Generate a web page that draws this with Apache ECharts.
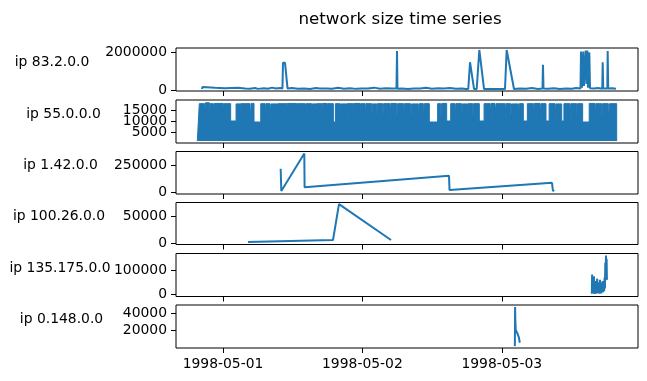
<!DOCTYPE html>
<html><head><meta charset="utf-8">
<script src="https://cdn.jsdelivr.net/npm/echarts@6/dist/echarts.min.js"></script>
<style>html,body{margin:0;padding:0;background:#fff}#c{width:647px;height:381px}</style>
</head><body><div id="c"></div>
<script>
const chartTitle = 'network size time series';
const panelNames = ['ip 83.2.0.0', 'ip 55.0.0.0', 'ip 1.42.0.0', 'ip 100.26.0.0', 'ip 135.175.0.0', 'ip 0.148.0.0'];
// x values are hours since 1998-05-01 00:00
const xTickHours = [0, 24, 48];
const xTickLabels = ['1998-05-01', '1998-05-02', '1998-05-03'];
const yTickValues = [[0, 2000000], [5000, 10000, 15000], [0, 250000], [0, 50000], [0, 100000], [20000, 40000]];

// ip 83.2.0.0
const p1Hours = [-3.62,-3.53,-3.36,-1.38,0.34,2.58,2.76,3.79,4.65,5.51,6.03,7.06,7.75,8.44,9.13,9.81,10.24,10.33,10.50,10.68,10.85,11.02,11.11,11.88,12.91,13.95,14.98,16.01,16.70,17.73,18.77,19.80,20.83,21.87,22.90,23.93,24.97,26.00,27.03,28.06,29.10,29.87,29.96,30.04,30.82,31.85,32.88,33.92,34.95,35.98,37.02,38.05,39.08,40.12,41.15,41.84,42.23,42.53,43.22,43.68,44.13,44.94,48.55,48.84,50.10,51.13,52.17,53.20,54.23,55.01,55.09,55.18,55.96,56.99,58.02,59.05,60.09,60.78,61.55,61.64,61.81,62.03,62.15,62.45,62.58,62.72,62.84,63.07,63.19,63.88,64.56,65.30,65.37,65.46,66.17,66.23,66.32,66.97,67.66];
const p1Values = [70000,180000,120000,130000,110000,140000,70000,90000,80000,120000,75000,110000,80000,140000,90000,120000,90000,1450000,1500000,1450000,1480000,1400000,100000,120000,85000,95000,70000,120000,90000,100000,80000,130000,85000,110000,75000,100000,90000,140000,80000,110000,90000,100000,2070000,80000,90000,70000,100000,90000,130000,80000,110000,90000,120000,80000,100000,70000,70000,1480000,70000,70000,2130000,70000,70000,2130000,70000,90000,80000,120000,70000,90000,1350000,90000,80000,110000,70000,100000,80000,120000,90000,2050000,130000,2050000,230000,2100000,330000,2100000,130000,2000000,110000,90000,120000,80000,1480000,90000,100000,2070000,90000,110000,80000];

// ip 55.0.0.0 (upper envelope of the dense oscillation, drawn as a filled step line)
const p2Hours = [-4.42,-4.08,-3.16,-3.02,-2.35,-2.21,-1.66,-1.52,0.06,0.20,1.32,2.25,2.93,3.03,4.65,4.85,5.34,6.50,7.23,7.38,8.09,8.25,9.35,9.45,10.96,11.06,12.57,12.64,14.12,14.26,15.27,15.36,16.01,16.11,16.99,17.09,17.96,18.08,19.00,19.35,20.14,20.26,21.18,21.30,22.44,22.56,23.59,23.69,24.45,24.60,25.60,25.72,26.46,26.58,27.49,27.64,28.75,28.90,29.90,30.08,31.05,31.20,32.31,32.48,33.63,33.78,34.49,34.64,35.52,36.95,37.48,37.66,38.51,39.20,39.94,40.09,41.09,41.24,42.07,42.19,42.99,43.14,44.13,44.95,45.97,46.12,46.83,47.03,48.55,48.70,49.53,49.68,50.85,51.00,51.71,52.40,53.43,53.58,54.58,54.73,55.61,56.15,57.16,57.31,58.31,58.70,59.74,59.89,60.89,61.04,61.92,63.05,64.05,64.20,65.20,65.35,66.34,66.55,67.78];
const p2Values = [1300,17800,14100,18200,9700,17800,14100,17900,14100,17800,10150,17700,14100,17800,9700,17900,9700,17800,13500,17800,9700,17700,14900,17800,14100,17900,14900,17800,14100,17800,14900,17700,14100,17800,10150,17900,14100,17800,9700,17800,14100,17700,10150,17800,10150,17900,14100,17800,10150,17800,10150,17700,10150,17800,10150,17800,10150,17900,10150,17800,10150,17800,10150,17700,10150,17800,10150,17800,9700,17800,10150,17900,10150,17800,10150,17800,10150,17700,10150,17800,10150,17800,10150,17800,10150,17900,14100,17800,10150,17800,10150,17700,10150,17800,10150,17800,10150,17900,10150,17800,10150,17800,10150,17700,10150,17800,10150,17800,10150,17800,9700,17900,10150,17800,10150,17800,10150,17800,1300];

// ip 1.42.0.0
const p3Hours = [9.93,10.04,14.00,14.05,38.91,39.00,56.64,56.82,56.90,56.99];
const p3Values = [221000,9600,366000,45000,154000,19000,87000,8000,15000,20000];

// ip 100.26.0.0
const p4Hours = [4.30,18.94,19.97,28.93];
const p4Values = [2000,5500,72000,5500];

// ip 135.175.0.0
const p5Hours = [63.50,63.55,63.62,63.70,63.78,63.86,63.94,64.02,64.10,64.18,64.26,64.34,64.42,64.50,64.58,64.66,64.74,64.82,64.90,64.98,65.06,65.14,65.22,65.30,65.38,65.46,65.54,65.62,65.70,65.76,65.82,65.88,65.94,66.00,66.05,66.10];
const p5Values = [3000,82000,5000,60000,8000,75000,2000,40000,10000,55000,3000,35000,65000,5000,50000,15000,45000,3000,60000,10000,50000,5000,40000,20000,55000,10000,45000,15000,70000,25000,130000,90000,160000,110000,145000,60000];

// ip 0.148.0.0
const p6Hours = [50.25,50.29,50.33,50.40,50.55,50.75,50.95,51.10];
const p6Values = [1000,47000,32000,20000,19000,15000,11000,5000];

const seriesHours = [p1Hours, p2Hours, p3Hours, p4Hours, p5Hours, p6Hours];
const seriesValues = [p1Values, p2Values, p3Values, p4Values, p5Values, p6Values];

// layout (pixels) and axis ranges
const gridTops = [48, 100, 151.5, 202.5, 253.5, 305];
const gridHeights = [43, 43, 42.5, 42, 43, 43];
const yRanges = [[-37500, 2233000], [443, 19410], [-19000, 385000], [-2800, 75000], [-8000, 168000], [-1200, 49400]];
const nameGaps = [124, 112.5, 115.5, 117, 116, 114.5];
const xMin = -8.09, xMax = 71.45;

const FONT = 'DejaVu Sans';
const tickStyle = {show: true, length: 5, lineStyle: {color: '#000', width: 1}};
function yLabel(vals) {
  return {show: true, customValues: vals, margin: 9, hideOverlap: false,
    fontFamily: FONT, fontSize: 13.9, color: '#000', formatter: v => String(v)};
}
const grids = [], xAxes = [], yAxes = [], series = [];
for (let i = 0; i < 6; i++) {
  grids.push({left: 176, width: 462, top: gridTops[i], height: gridHeights[i], show: true,
    borderColor: '#000', borderWidth: 1, containLabel: false});
  xAxes.push({type: 'value', gridIndex: i, min: xMin, max: xMax, position: 'bottom',
    axisLine: {show: false, onZero: false}, splitLine: {show: false},
    axisTick: Object.assign({customValues: xTickHours}, tickStyle),
    axisLabel: {show: i === 5, customValues: xTickHours, margin: 9, hideOverlap: false,
      fontFamily: FONT, fontSize: 13.9, color: '#000',
      formatter: v => xTickLabels[xTickHours.indexOf(v)]}});
}
// one y axis per tick label so that crowded labels all stay visible
const seriesYAxis = [];
for (let i = 0; i < 6; i++) {
  yTickValues[i].forEach((tv, k) => {
    const ax = {type: 'value', gridIndex: i, min: yRanges[i][0], max: yRanges[i][1], position: 'left', offset: 0,
      axisLine: {show: false, onZero: false}, splitLine: {show: false},
      axisTick: Object.assign({customValues: [tv]}, tickStyle),
      axisLabel: yLabel([tv])};
    if (k === 0) {
      ax.name = panelNames[i]; ax.nameLocation = 'middle'; ax.nameRotate = 0; ax.nameGap = nameGaps[i];
      ax.nameTextStyle = {fontFamily: FONT, fontSize: 13.9, color: '#000', align: 'center', verticalAlign: 'bottom'};
      seriesYAxis[i] = yAxes.length;
    }
    yAxes.push(ax);
  });
}
for (let i = 0; i < 6; i++) {
  const data = seriesHours[i].map((h, j) => [h, seriesValues[i][j]]);
  const s = {type: 'line', xAxisIndex: i, yAxisIndex: seriesYAxis[i], data: data, showSymbol: false, symbol: 'none',
    animation: false, lineStyle: {color: '#1f77b4', width: 2}, clip: true};
  if (i === 1) {
    s.step = 'end';
    s.lineStyle.width = 1;
    s.areaStyle = {color: '#1f77b4', opacity: 1, origin: 1300};
  }
  series.push(s);
}

const chart = echarts.init(document.getElementById('c'), null, {renderer: 'canvas'});
chart.setOption({
  animation: false,
  backgroundColor: '#fff',
  title: {text: chartTitle, left: 395, top: 6, textAlign: 'center',
    textStyle: {fontFamily: FONT, fontSize: 16.7, fontWeight: 'normal', color: '#000'}},
  grid: grids, xAxis: xAxes, yAxis: yAxes, series: series
});
</script></body></html>
